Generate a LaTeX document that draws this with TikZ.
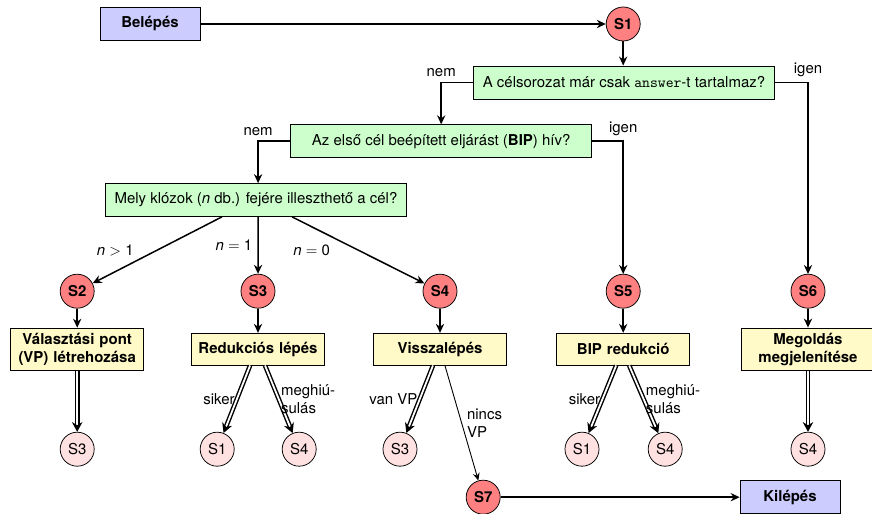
\documentclass[tikz,border=0pt]{standalone}
\usepackage{fontspec}
\setmainfont{TeX Gyre Heros}
\usepackage{tikz}
\usetikzlibrary{arrows.meta,shapes,positioning,decorations.markings}

\definecolor{termblue}{RGB}{204,204,255}
\definecolor{qgreen}{RGB}{204,255,204}
\definecolor{actyellow}{RGB}{255,250,200}
\definecolor{statered}{RGB}{255,128,128}
\definecolor{jumppink}{RGB}{255,225,225}

\tikzset{
  startstop/.style={draw, line width=0.5pt, fill=termblue, font=\bfseries, minimum width=66.7pt, minimum height=22pt},
  question/.style={draw, line width=0.5pt, fill=qgreen, minimum width=201pt, minimum height=22pt},
  action/.style={draw, line width=0.5pt, fill=actyellow, font=\bfseries, text width=83pt, align=center, inner xsep=3pt, minimum height=21.3pt},
  state/.style={draw, circle, line width=0.5pt, fill=statered, font=\bfseries, minimum size=22.7pt, inner sep=0pt},
  jump/.style={draw, circle, line width=0.5pt, fill=jumppink, minimum size=22.7pt, inner sep=0pt},
  flow/.style={-{Stealth[length=6pt,width=5.5pt]}, line width=1pt},
  dbl/.style={double, double distance=1.2pt, line width=0.95pt, shorten >=4.5pt,
    decoration={markings, mark=at position 1 with {\arrow[line width=0.8pt]{Stealth[length=6.5pt,width=7pt]}}},
    postaction={decorate}}
}

\begin{document}
\begin{tikzpicture}[x=26.7pt,y=26.7pt]
    \useasboundingbox (0,0) rectangle (21.8,-12.85);

    % entry and first question
    \node[startstop] (entry) at (3.75,-0.6) {Belépés};
    \node[state] (s1) at (15.58,-0.6) {S1};
    \node[question] (q1) at (15.6,-2.06) {A célsorozat már csak \texttt{answer}-t tartalmaz?};
    \node[question] (q2) at (11.03,-3.53) {Az első cél beépített eljárást (\textbf{BIP}) hív?};
    \node[question] (q3) at (6.4,-5.0) {Mely klózok (\textit{n} db.) fejére illeszthető a cél?};

    \draw[flow] (entry) -- (s1);
    \draw[flow] (s1) -- (s1 |- q1.north);
    \draw[flow] (q1.west) -| node[pos=0.5, above] {nem} (q2.north);
    \draw[flow] (q1.east) -| node[pos=0.5, above] {igen} (20.2,-6.85);
    \draw[flow] (q2.west) -| node[pos=0.5, above] {nem} ([xshift=1.4pt]q3.north);
    \draw[flow] (q2.east) -| node[pos=0.5, above] {igen} (15.58,-6.85);

    % states S2 .. S6
    \node[state] (s2) at (1.93,-7.28) {S2};
    \node[state] (s3) at (6.45,-7.28) {S3};
    \node[state] (s4) at (11.0,-7.28) {S4};
    \node[state] (s5) at (15.58,-7.28) {S5};
    \node[state] (s6) at (20.2,-7.28) {S6};

    \draw[flow] ([xshift=-22.7pt]q3.south) -- node[midway, left=12pt] {\textit{n}~$>$~1} (s2);
    \draw[flow] ([xshift=1.4pt]q3.south) -- node[midway, left] {\textit{n}~$=$~1} (s3);
    \draw[flow] ([xshift=24pt]q3.south) -- node[midway, left=15pt] {\textit{n}~$=$~0} (s4);

    % actions
    \node[action] (p2) at (1.93,-8.73) {Választási pont (VP) létrehozása};
    \node[action] (p3) at (6.45,-8.73) {Redukciós lépés};
    \node[action] (p4) at (11.0,-8.73) {Visszalépés};
    \node[action] (p5) at (15.58,-8.73) {BIP redukció};
    \node[action] (p6) at (20.2,-8.73) {Megoldás megjelenítése};

    \draw[flow] (s2) -- (p2);
    \draw[flow] (s3) -- (p3);
    \draw[flow] (s4) -- (p4);
    \draw[flow] (s5) -- (p5);
    \draw[flow] (s6) -- (p6);

    % where to go next
    \node[jump] (b2) at (1.93,-11.23) {S3};
    \node[jump] (b3a) at (5.43,-11.23) {S1};
    \node[jump] (b3b) at (7.48,-11.23) {S4};
    \node[jump] (b4) at (10.0,-11.23) {S3};
    \node[jump] (b5a) at (14.55,-11.23) {S1};
    \node[jump] (b5b) at (16.63,-11.23) {S4};
    \node[jump] (b6) at (20.2,-11.23) {S4};

    \draw[dbl] (p2) -- (b2);
    \draw[dbl] ([xshift=-5.3pt]p3.south) -- node[midway, left, inner sep=1pt] {siker} (b3a);
    \draw[dbl] ([xshift=4.7pt]p3.south) -- node[midway, right, align=left, inner sep=1pt] {meghiú-\\sulás} (b3b);
    \draw[dbl] ([xshift=-4.7pt]p4.south) -- node[midway, left, inner sep=1pt] {van VP} (b4);
    \draw[dbl] ([xshift=-4.7pt]p5.south) -- node[midway, left, inner sep=1pt] {siker} (b5a);
    \draw[dbl] ([xshift=4pt]p5.south) -- node[midway, right, align=left, inner sep=1pt] {meghiú-\\sulás} (b5b);
    \draw[dbl] (p6) -- (b6);

    % exit
    \node[state] (s7) at (12.08,-12.43) {S7};
    \node[startstop] (exit) at (19.75,-12.43) {Kilépés};
    \draw[-{Stealth[length=5pt,width=4.5pt]}, line width=0.6pt] ([xshift=3.3pt]p4.south) -- node[midway, right, align=left] {nincs\\VP} (s7);
    \draw[flow] (s7) -- (exit);
\end{tikzpicture}
\end{document}
